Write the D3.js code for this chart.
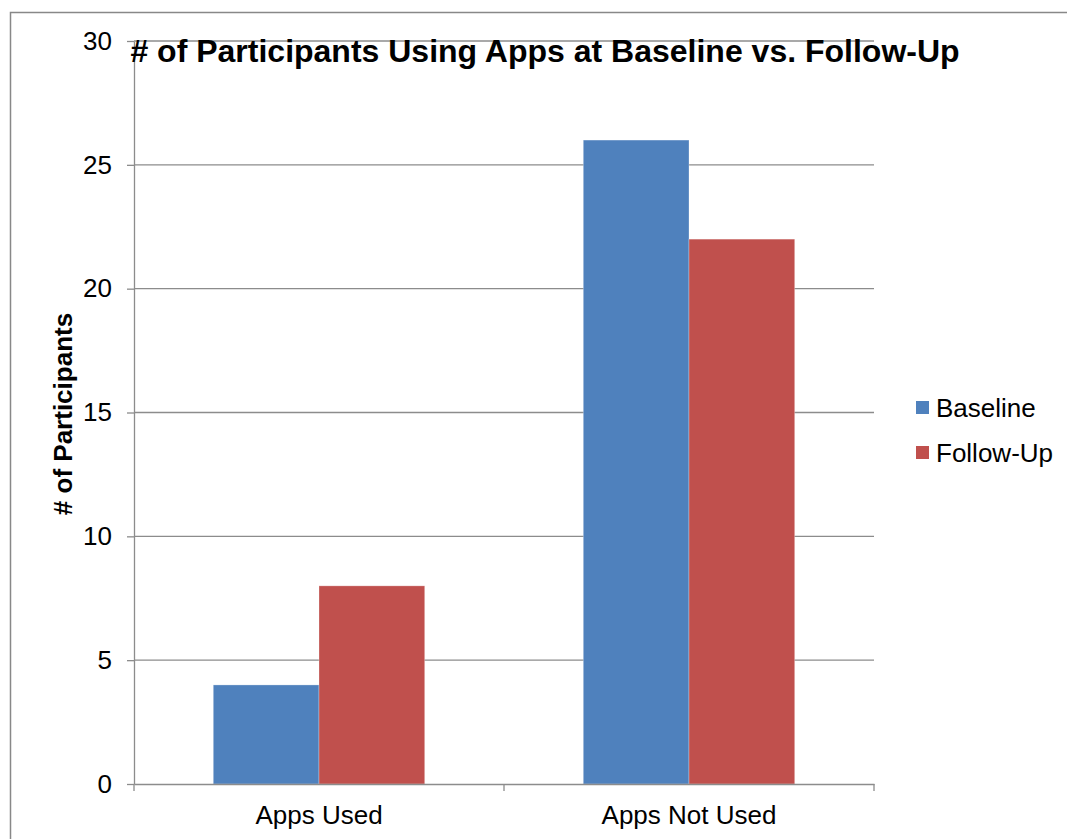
<!DOCTYPE html>
<html>
<head>
<meta charset="utf-8">
<script src="https://cdn.jsdelivr.net/npm/d3@7"></script>
<style>
  html, body { margin: 0; padding: 0; background: #fff; }
  svg { display: block; font-family: "Liberation Sans", Arial, sans-serif; }
</style>
</head>
<body>
<svg id="chart" width="1067" height="839"></svg>
<script>
// Participants using apps, baseline vs. follow-up
const categories = ["Apps Used", "Apps Not Used"];
const seriesNames = ["Baseline", "Follow-Up"];
const baseline = [4, 26];
const followUp = [8, 22];
const yTicks = [0, 5, 10, 15, 20, 25, 30];
const colors = ["#4f81bd", "#c0504d"];

const svg = d3.select("#chart");
const W = 1067, H = 839;
const plot = { left: 134, right: 874, top: 41, bottom: 784 };

// outer chart frame
svg.append("rect")
  .attr("x", 10.5).attr("y", 12.5)
  .attr("width", W + 20).attr("height", H + 20)
  .attr("fill", "#fff").attr("stroke", "#888").attr("stroke-width", 1.5);

const x0 = d3.scaleBand().domain(categories).range([plot.left, plot.right]);
// gap width of 150% between clusters
const barW = x0.bandwidth() / 3.5;
const x1 = d3.scaleBand().domain(seriesNames)
  .range([(x0.bandwidth() - 2 * barW) / 2, (x0.bandwidth() + 2 * barW) / 2]);
const y = d3.scaleLinear().domain([0, 30]).range([plot.bottom, plot.top]);

// horizontal gridlines
svg.append("g").selectAll("line").data(yTicks.filter(d => d > 0)).join("line")
  .attr("x1", plot.left).attr("x2", plot.right)
  .attr("y1", d => y(d)).attr("y2", d => y(d))
  .attr("stroke", "#8c8c8c").attr("stroke-width", 1.3);

// bars
const rows = categories.map((c, i) => ({ cat: c, vals: [baseline[i], followUp[i]] }));
const groups = svg.append("g").selectAll("g").data(rows).join("g")
  .attr("transform", d => `translate(${x0(d.cat)},0)`);
groups.selectAll("rect")
  .data(d => d.vals.map((v, j) => ({ name: seriesNames[j], v, j })))
  .join("rect")
  .attr("x", d => x1(d.name))
  .attr("width", x1.bandwidth())
  .attr("y", d => y(d.v))
  .attr("height", d => y(0) - y(d.v))
  .attr("fill", d => colors[d.j])
  .attr("stroke", "rgba(255,255,255,0.35)").attr("stroke-width", 0.8);

// y axis
const yAxis = svg.append("g")
  .attr("transform", `translate(${plot.left},0)`)
  .call(d3.axisLeft(y).tickValues(yTicks).tickSize(7).tickPadding(15).tickSizeOuter(0));
yAxis.select(".domain").attr("stroke", "#8c8c8c").attr("stroke-width", 1.3);
yAxis.selectAll(".tick line").attr("stroke", "#8c8c8c").attr("stroke-width", 1.3);
yAxis.selectAll(".tick text")
  .attr("font-size", 26).attr("fill", "#000")
  .attr("font-family", "'Liberation Sans', Arial, sans-serif");

// x axis
const xAxis = svg.append("g")
  .attr("transform", `translate(0,${plot.bottom})`)
  .call(d3.axisBottom(x0).tickSize(0).tickPadding(22));
xAxis.select(".domain").attr("stroke", "#8c8c8c").attr("stroke-width", 1.3);
xAxis.selectAll(".tick text")
  .attr("font-size", 26).attr("fill", "#000")
  .attr("font-family", "'Liberation Sans', Arial, sans-serif");
// category boundary ticks
const bounds = categories.map(c => x0(c)).concat([plot.right]);
svg.append("g").selectAll("line").data(bounds).join("line")
  .attr("x1", d => d).attr("x2", d => d)
  .attr("y1", plot.bottom).attr("y2", plot.bottom + 7)
  .attr("stroke", "#8c8c8c").attr("stroke-width", 1.3);

// title
svg.append("text")
  .attr("x", 545).attr("y", 62)
  .attr("text-anchor", "middle")
  .attr("font-size", 32).attr("font-weight", "bold")
  .text("# of Participants Using Apps at Baseline vs. Follow-Up");

// y axis title
svg.append("text")
  .attr("transform", "translate(72,414) rotate(-90)")
  .attr("text-anchor", "middle")
  .attr("font-size", 26).attr("font-weight", "bold")
  .text("# of Participants");

// legend
const legend = svg.append("g").attr("transform", "translate(916,401)");
const items = legend.selectAll("g").data(seriesNames).join("g")
  .attr("transform", (d, i) => `translate(0,${i * 45})`);
items.append("rect").attr("width", 13).attr("height", 13)
  .attr("fill", (d, i) => colors[i]);
items.append("text").attr("x", 20).attr("y", 6.5).attr("dy", "0.35em")
  .attr("font-size", 26).text(d => d);
</script>
</body>
</html>
